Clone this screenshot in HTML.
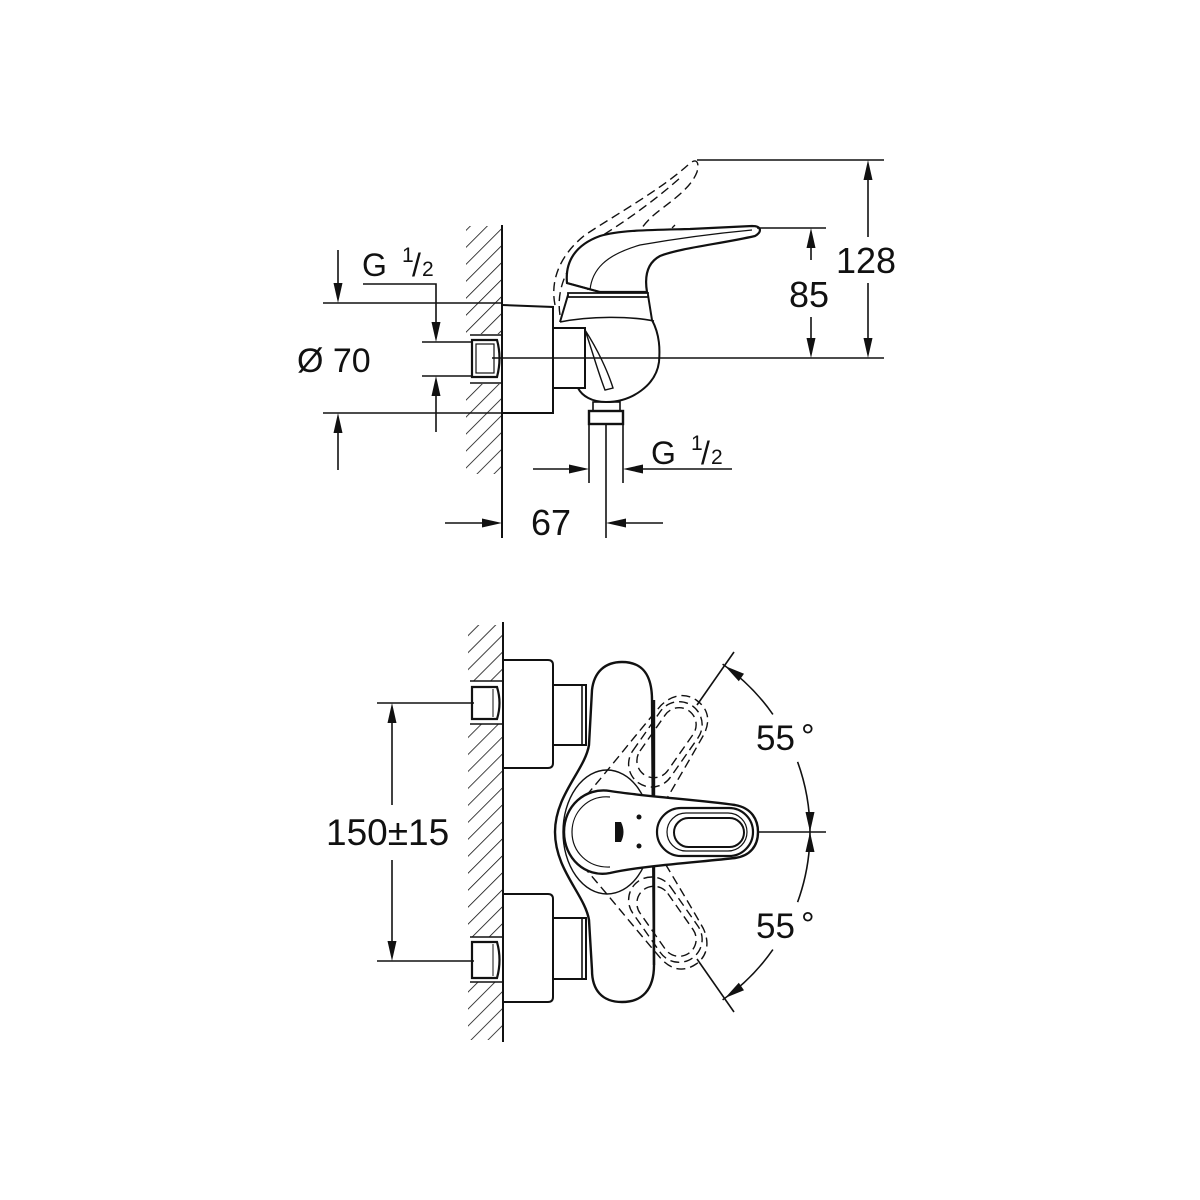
<!DOCTYPE html>
<html><head><meta charset="utf-8"><style>
html,body{margin:0;padding:0;background:#fff}
svg{display:block}
text{font-family:"Liberation Sans",Arial,sans-serif;fill:#111}
</style></head><body>
<svg width="1200" height="1200" viewBox="0 0 1200 1200" xmlns="http://www.w3.org/2000/svg">
<defs>
<pattern id="h" width="12" height="12" patternUnits="userSpaceOnUse" patternTransform="rotate(45)">
<line x1="0" y1="0" x2="0" y2="12" stroke="#111" stroke-width="1.6"/>
</pattern>
</defs>
<g stroke="#111" fill="none" stroke-width="1.6">

<!-- ================= TOP VIEW ================= -->
<rect x="466" y="226" width="36" height="248" fill="url(#h)" stroke="none"/>
<rect x="466" y="334" width="36" height="50" fill="#fff" stroke="none"/>
<line x1="470" y1="335" x2="502" y2="335"/>
<line x1="470" y1="383" x2="502" y2="383"/>
<line x1="502" y1="225" x2="502" y2="538" stroke-width="2"/>
<path d="M472,340 L497,340 Q502,358 497,377 L472,377 Z" stroke-width="2.2"/>
<rect x="476" y="344" width="18" height="29" stroke-width="1.2"/>
<path d="M502,305 L553,307 L553,413 L502,413" stroke-width="2"/>
<rect x="553" y="328" width="32" height="60" stroke-width="2"/>
<path d="M568,295 L560,322 M648,295 L652,320 C660,335 660,350 659,362 C656,385 632,402 606,402 C592,402 582,396 578,388" stroke-width="2"/>
<path d="M560,322 C590,316 630,316 654,321" stroke-width="1.6"/>
<path d="M585,330 C598,350 608,372 613,388 L605,390 C598,372 592,350 585,330" stroke-width="1.4"/>
<path d="M568,293 L648,293 L648,297 L568,297 Z" fill="#fff" stroke-width="1.8"/>
<rect x="593" y="402" width="27" height="9" stroke-width="1.6"/>
<rect x="589" y="411" width="34" height="13" stroke-width="2.4"/>
<line x1="589" y1="424" x2="589" y2="483"/>
<line x1="623" y1="424" x2="623" y2="483"/>
<line x1="606" y1="424" x2="606" y2="538"/>
<g stroke-dasharray="9,5" stroke-width="1.4">
<path d="M555,305 C550,280 560,255 585,235 C620,212 660,190 688,165 C695,158 700,160 697,172 C692,185 680,195 660,210 C640,225 628,245 628,270 L632,290"/>
<path d="M560,315 C556,290 566,262 595,240 C625,222 655,200 680,178"/>
<path d="M588,290 C583,270 586,250 598,238 M640,255 C655,245 665,235 675,225"/>
</g>
<path d="M567,283 C565,262 575,245 600,236 C620,230 650,230 690,229 L752,226 C762,226 762,232 755,236 C720,244 680,248 660,256 C645,264 645,280 647,292 L600,292 Z" fill="#fff" stroke-width="2.2"/>
<path d="M590,290 C592,270 605,255 640,245 C680,238 720,233 752,230" stroke-width="1.2"/>
<path d="M567,283 L600,292" stroke-width="1.8"/>
<line x1="697" y1="160" x2="884" y2="160"/>
<line x1="757" y1="228" x2="826" y2="228"/>
<line x1="492" y1="358" x2="884" y2="358"/>
<line x1="868" y1="178" x2="868" y2="237"/><line x1="868" y1="283" x2="868" y2="340"/>
<line x1="811" y1="246" x2="811" y2="260"/><line x1="811" y1="317" x2="811" y2="340"/>
<line x1="323" y1="303" x2="502" y2="303"/>
<line x1="323" y1="413" x2="502" y2="413"/>
<line x1="338" y1="250" x2="338" y2="285"/><line x1="338" y1="431" x2="338" y2="470"/>
<polyline points="363,284 436,284 436,324"/>
<line x1="436" y1="394" x2="436" y2="432"/>
<line x1="422" y1="342" x2="472" y2="342"/>
<line x1="422" y1="376" x2="472" y2="376"/>
<line x1="533" y1="469" x2="571" y2="469"/><line x1="641" y1="469" x2="732" y2="469"/>
<line x1="445" y1="523" x2="484" y2="523"/><line x1="624" y1="523" x2="663" y2="523"/>

<!-- ================= BOTTOM VIEW ================= -->
<rect x="468" y="625" width="34" height="415" fill="url(#h)" stroke="none"/>
<rect x="466" y="681" width="36" height="43" fill="#fff" stroke="none"/>
<rect x="466" y="937" width="36" height="45" fill="#fff" stroke="none"/>
<line x1="470" y1="681" x2="502" y2="681"/><line x1="470" y1="724" x2="502" y2="724"/>
<line x1="470" y1="937" x2="502" y2="937"/><line x1="470" y1="982" x2="502" y2="982"/>
<line x1="503" y1="622" x2="503" y2="1042" stroke-width="2"/>
<path d="M472,687 L497,687 Q502,703 497,719 L472,719 Z" stroke-width="2.2"/>
<path d="M472,942 L497,942 Q502,960 497,978 L472,978 Z" stroke-width="2.2"/>
<line x1="493" y1="689" x2="493" y2="717" stroke-width="1"/>
<line x1="493" y1="944" x2="493" y2="976" stroke-width="1"/>
<path d="M503,660 L548,660 Q553,660 553,665 L553,763 Q553,768 548,768 L503,768" stroke-width="2"/>
<path d="M503,894 L548,894 Q553,894 553,899 L553,997 Q553,1002 548,1002 L503,1002" stroke-width="2"/>
<rect x="553" y="685" width="33" height="60" stroke-width="2"/>
<rect x="553" y="918" width="33" height="61" stroke-width="2"/>
<line x1="582" y1="686" x2="582" y2="744"/><line x1="582" y1="919" x2="582" y2="978"/>
<path d="M622,662 C642,662 652,674 652,700 L654,965 C654,990 642,1002 622,1002 C602,1002 592,990 592,970 L589,920 C585,895 555,870 555,832 C555,795 585,770 589,745 L592,690 C594,672 605,662 622,662 Z" fill="#fff" stroke-width="2.4"/>
<ellipse cx="607" cy="832" rx="44" ry="62" stroke-width="1.4"/>
<g stroke-dasharray="9,5" stroke-width="1.4">
<g transform="rotate(-55 604 832)">
<path d="M610,795 C640,799 700,802 740,806 C757,809 765,820 765,832 C765,846 757,856 740,858 C700,862 640,866 610,870"/>
<rect x="664" y="809" width="94" height="46" rx="23"/>
<rect x="674" y="815" width="78" height="34" rx="17"/>
</g>
<g transform="rotate(55 604 832)">
<path d="M610,795 C640,799 700,802 740,806 C757,809 765,820 765,832 C765,846 757,856 740,858 C700,862 640,866 610,870"/>
<rect x="664" y="809" width="94" height="46" rx="23"/>
<rect x="674" y="815" width="78" height="34" rx="17"/>
</g>
</g>
<line x1="654" y1="700" x2="654" y2="965" stroke-width="2.4"/>
<path d="M610,791 C640,796 700,800 735,805 C752,808 758,820 758,832 C758,846 750,856 735,858 C700,862 640,866 610,873 C585,878 564,858 564,832 C564,806 585,787 610,791 Z" fill="#fff" stroke-width="2.4"/>
<path d="M610,797 C588,795 572,812 572,832 C572,852 588,868 610,867" stroke-width="1.2"/>
<rect x="657" y="808" width="96" height="48" rx="24" stroke-width="2.2"/>
<rect x="667" y="813" width="80" height="38" rx="19" stroke-width="1.2"/>
<rect x="674" y="818" width="70" height="29" rx="14.5" stroke-width="2"/>
<circle cx="639" cy="817" r="2.5" fill="#111" stroke="none"/>
<circle cx="639" cy="846" r="2.5" fill="#111" stroke="none"/>
<path d="M615,822 L621,822 Q626,832 621,842 L615,842 Z" fill="#111" stroke="none"/>
<line x1="758" y1="832" x2="826" y2="832"/>
<line x1="697" y1="705" x2="734" y2="652"/>
<line x1="697" y1="959" x2="734" y2="1012"/>
<path d="M722.6,664.1 A205,205 0 0 1 772.9,714.4"/>
<path d="M797.6,761.9 A205,205 0 0 1 810,832"/>
<path d="M810,832 A205,205 0 0 1 797.6,902.1"/>
<path d="M772.9,949.6 A205,205 0 0 1 722.6,999.9"/>
<line x1="377" y1="703" x2="474" y2="703"/>
<line x1="377" y1="961" x2="474" y2="961"/>
<line x1="392" y1="720" x2="392" y2="805"/><line x1="392" y1="860" x2="392" y2="944"/>
</g>

<g fill="#111" stroke="none">
<polygon points="338,303 333.5,283 342.5,283"/>
<polygon points="338,413 333.5,433 342.5,433"/>
<polygon points="436,342 431.5,322 440.5,322"/>
<polygon points="436,376 431.5,396 440.5,396"/>
<polygon points="868,160 863.5,180 872.5,180"/>
<polygon points="868,358 863.5,338 872.5,338"/>
<polygon points="811,228 806.5,248 815.5,248"/>
<polygon points="811,358 806.5,338 815.5,338"/>
<polygon points="589,469 569,464.5 569,473.5"/>
<polygon points="623,469 643,464.5 643,473.5"/>
<polygon points="502,523 482,518.5 482,527.5"/>
<polygon points="606,523 626,518.5 626,527.5"/>
<polygon points="392,703 387.5,723 396.5,723"/>
<polygon points="392,961 387.5,941 396.5,941"/>
<polygon points="725,666 744,673.8 738.8,681.2"/>
<polygon points="725,998 744,990.2 738.8,982.8"/>
<polygon points="810,832 805.5,812 814.5,812"/>
<polygon points="810,832 805.5,852 814.5,852"/>
</g>

<text x="362" y="276" font-size="32">G</text>
<text x="402" y="262" font-size="21">1</text>
<text x="412" y="276" font-size="32">/</text>
<text x="422" y="276" font-size="21">2</text>
<text x="297" y="372" font-size="34">Ø 70</text>
<text x="836" y="273" font-size="36">128</text>
<text x="789" y="307" font-size="36">85</text>
<text x="651" y="464" font-size="32">G</text>
<text x="691" y="450" font-size="21">1</text>
<text x="701" y="464" font-size="32">/</text>
<text x="711" y="464" font-size="21">2</text>
<text x="531" y="535" font-size="36">67</text>
<text x="326" y="845" font-size="37">150±15</text>
<text x="756" y="750" font-size="35">55</text>
<text x="801" y="748" font-size="34">°</text>
<text x="756" y="938" font-size="35">55</text>
<text x="801" y="936" font-size="34">°</text>
</svg>
</body></html>
